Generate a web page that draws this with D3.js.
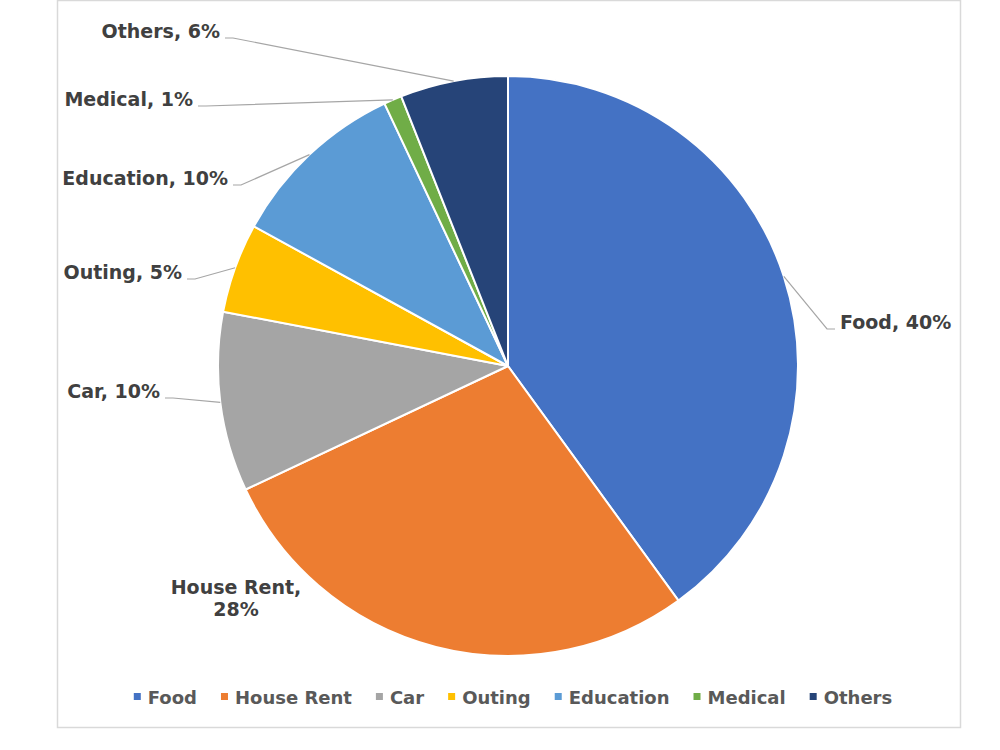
<!DOCTYPE html>
<html>
<head>
<meta charset="utf-8">
<script src="https://cdn.jsdelivr.net/npm/d3@7"></script>
<style>
  body { margin: 0; background: #fff; }
  svg { display: block; font-family: "DejaVu Sans", Verdana, sans-serif; font-weight: bold; }
</style>
</head>
<body>
<div id="chart"></div>
<script>
// data
const categories = ["Food", "House Rent", "Car", "Outing", "Education", "Medical", "Others"];
const shares = [40, 28, 10, 5, 10, 1, 6];
const colors = ["#4472C4", "#ED7D31", "#A5A5A5", "#FFC000", "#5B9BD5", "#70AD47", "#264478"];

// label layout (anchor of each data label, kept apart from the data)
const labelLayout = {
  "Food":       { x: 840, y: 329, anchor: "start" },
  "House Rent": { x: 236, y: 594, anchor: "middle", wrap: true },
  "Car":        { x: 160, y: 398, anchor: "end" },
  "Outing":     { x: 182, y: 279, anchor: "end" },
  "Education":  { x: 228, y: 185, anchor: "end" },
  "Medical":    { x: 193, y: 106, anchor: "end" },
  "Others":     { x: 220, y: 38,  anchor: "end" }
};

const width = 1000, height = 750;
const cx = 508, cy = 366, radius = 290;

const svg = d3.select("#chart").append("svg")
  .attr("width", width).attr("height", height);

// chart frame
svg.append("rect")
  .attr("x", 57.5).attr("y", 0.5)
  .attr("width", 903).attr("height", 727)
  .attr("fill", "#fff").attr("stroke", "#d9d9d9").attr("stroke-width", 1.5);

const data = categories.map((c, i) => ({ name: c, value: shares[i], color: colors[i] }));
const total = d3.sum(shares);

const pie = d3.pie().value(d => d.value).sort(null);
const arc = d3.arc().innerRadius(0).outerRadius(radius);
const arcs = pie(data);

const g = svg.append("g").attr("transform", `translate(${cx},${cy})`);

g.selectAll("path.slice").data(arcs).enter().append("path")
  .attr("class", "slice")
  .attr("d", arc)
  .attr("fill", d => d.data.color)
  .attr("stroke", "#fff").attr("stroke-width", 2).attr("stroke-linejoin", "round");

// leader lines + labels
const pct = v => Math.round(v / total * 100) + "%";
const labels = svg.append("g");

arcs.forEach(d => {
  const lay = labelLayout[d.data.name];
  const mid = (d.startAngle + d.endAngle) / 2;
  const px = cx + radius * Math.sin(mid);
  const py = cy - radius * Math.cos(mid);

  const txt = labels.append("text")
    .attr("text-anchor", lay.anchor)
    .attr("font-size", 19)
    .attr("fill", "#404040");

  if (lay.wrap) {
    txt.append("tspan").attr("x", lay.x).attr("y", lay.y).text(d.data.name + ",");
    txt.append("tspan").attr("x", lay.x).attr("y", lay.y + 22).text(pct(d.data.value));
    return;
  }
  txt.attr("x", lay.x).attr("y", lay.y).text(d.data.name + ", " + pct(d.data.value));

  let x0, x1;
  if (lay.anchor === "end") { x0 = lay.x + 5; x1 = x0 + 8; }
  else { x0 = lay.x - 5; x1 = x0 - 8; }
  labels.append("polyline")
    .attr("points", [[x0, lay.y], [x1, lay.y], [px, py]].map(p => p.join(",")).join(" "))
    .attr("fill", "none").attr("stroke", "#a6a6a6").attr("stroke-width", 1.2);
});

// legend
const legend = svg.append("g");
const legendY = 697;
let lx = 0;
const items = data.map(d => {
  const item = legend.append("g");
  item.append("rect")
    .attr("x", lx).attr("y", legendY - 4)
    .attr("width", 7).attr("height", 7)
    .attr("fill", d.color);
  const t = item.append("text")
    .attr("x", lx + 14).attr("y", legendY + 6.5)
    .attr("font-size", 18).attr("fill", "#595959")
    .text(d.name);
  lx += 14 + t.node().getComputedTextLength() + 24;
  return item;
});
const legendWidth = lx - 24;
legend.attr("transform", `translate(${513 - legendWidth / 2},0)`);
</script>
</body>
</html>
